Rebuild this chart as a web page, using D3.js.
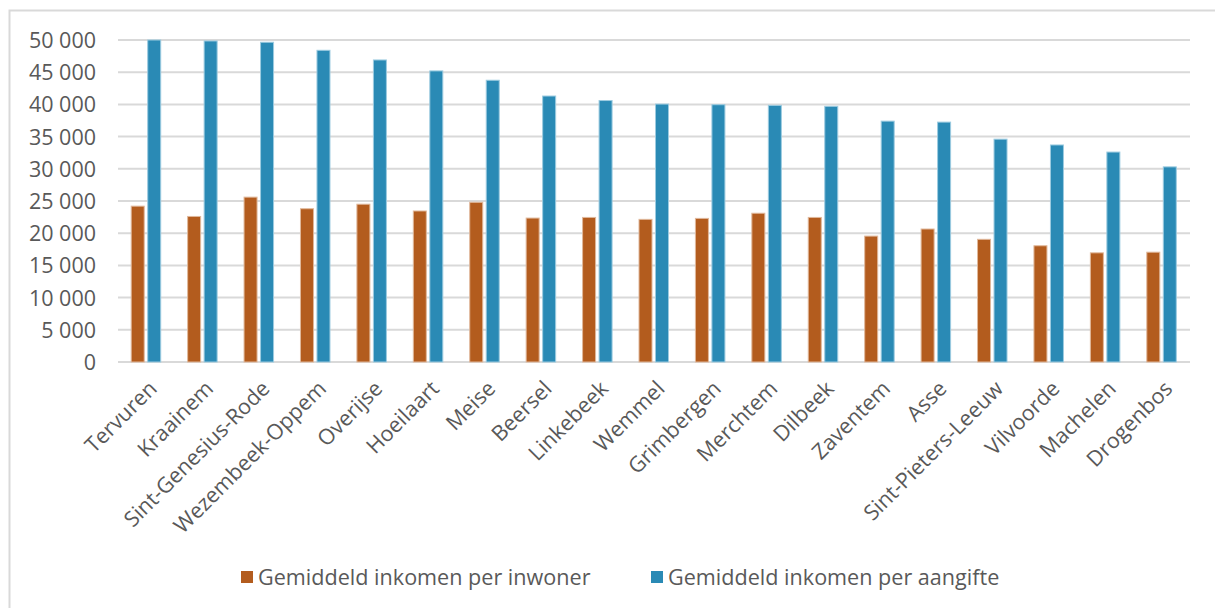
<!DOCTYPE html>
<html>
<head>
<meta charset="utf-8">
<script src="https://cdn.jsdelivr.net/npm/d3@7"></script>
<style>
  html, body { margin: 0; padding: 0; background: #fff; }
  svg { display: block; }
</style>
</head>
<body>
<svg id="chart" width="1215" height="608"></svg>
<script>
const categories = ["Tervuren","Kraainem","Sint-Genesius-Rode","Wezembeek-Oppem","Overijse","Hoeilaart","Meise","Beersel","Linkebeek","Wemmel","Grimbergen","Merchtem","Dilbeek","Zaventem","Asse","Sint-Pieters-Leeuw","Vilvoorde","Machelen","Drogenbos"];
const perInwoner = [24200,22600,25600,23800,24500,23450,24800,22350,22450,22150,22300,23100,22450,19550,20650,19050,18050,16950,17050];
const perAangifte = [50000,49850,49650,48400,46900,45200,43750,41300,40600,40050,39950,39850,39700,37400,37250,34600,33700,32600,30300];
const seriesNames = ["Gemiddeld inkomen per inwoner","Gemiddeld inkomen per aangifte"];
const yTicks = [0,5000,10000,15000,20000,25000,30000,35000,40000,45000,50000];

(function () {
const colors = ["#B35C1E", "#2A8AB5"];
const strokes = ["#E0B89B", "#9CCBE0"];
const font = "'Open Sans', sans-serif";
const textColor = "#595959";

const svg = d3.select("#chart");

svg.append("rect").attr("x", 9.5).attr("y", 10.5).attr("width", 1300).attr("height", 700)
  .attr("fill", "none").attr("stroke", "#D9D9D9").attr("stroke-width", 2);

const pLeft = 118, pRight = 1190, pTop = 40, pBottom = 362;

const x = d3.scaleBand().domain(categories).range([pLeft, pRight]);
const y = d3.scaleLinear().domain([0, 50000]).range([pBottom, pTop]);

const fmt = v => d3.format(",")(v).replace(/,/g, " ");

svg.append("g").selectAll("line").data(yTicks).join("line")
  .attr("x1", pLeft).attr("x2", pRight)
  .attr("y1", d => y(d)).attr("y2", d => y(d))
  .attr("stroke", "#D9D9D9").attr("stroke-width", 2);

const yAxis = d3.axisLeft(y).tickValues(yTicks).tickFormat(fmt).tickSize(0).tickPadding(0);
const gy = svg.append("g").attr("transform", `translate(${pLeft - 22},0)`).call(yAxis);
gy.select(".domain").remove();
gy.selectAll("text").attr("font-family", font).attr("font-size", 21.5).attr("fill", textColor).attr("dy", "0.35em");

const barW = 13;
const series = [perInwoner, perAangifte];
series.forEach((vals, si) => {
  svg.append("g").selectAll("rect").data(vals).join("rect")
    .attr("x", (d, i) => x(categories[i]) + x.bandwidth() / 2 - 15 + si * 16.5)
    .attr("width", barW)
    .attr("y", d => y(d))
    .attr("height", d => pBottom - y(d))
    .attr("fill", colors[si])
    .attr("stroke", strokes[si]).attr("stroke-width", 1);
});

const xAxis = d3.axisBottom(x).tickSize(0).tickPadding(0);
const gx = svg.append("g").attr("transform", `translate(0,${pBottom})`).call(xAxis);
gx.select(".domain").remove();
gx.selectAll("text")
  .attr("font-family", font).attr("font-size", 21.5).attr("fill", textColor)
  .attr("text-anchor", "end")
  .attr("dy", 0).attr("y", 0)
  .attr("transform", "translate(12,28) rotate(-45)");

const legend = svg.append("g");
const legX = [241, 651];
seriesNames.forEach((name, i) => {
  legend.append("rect").attr("x", legX[i]).attr("y", 571).attr("width", 12).attr("height", 12).attr("fill", colors[i]);
  legend.append("text").attr("x", legX[i] + 17).attr("y", 577).attr("dy", "0.35em")
    .attr("font-family", font).attr("font-size", 21.6).attr("fill", textColor).text(name);
});
})();
</script>
</body>
</html>
